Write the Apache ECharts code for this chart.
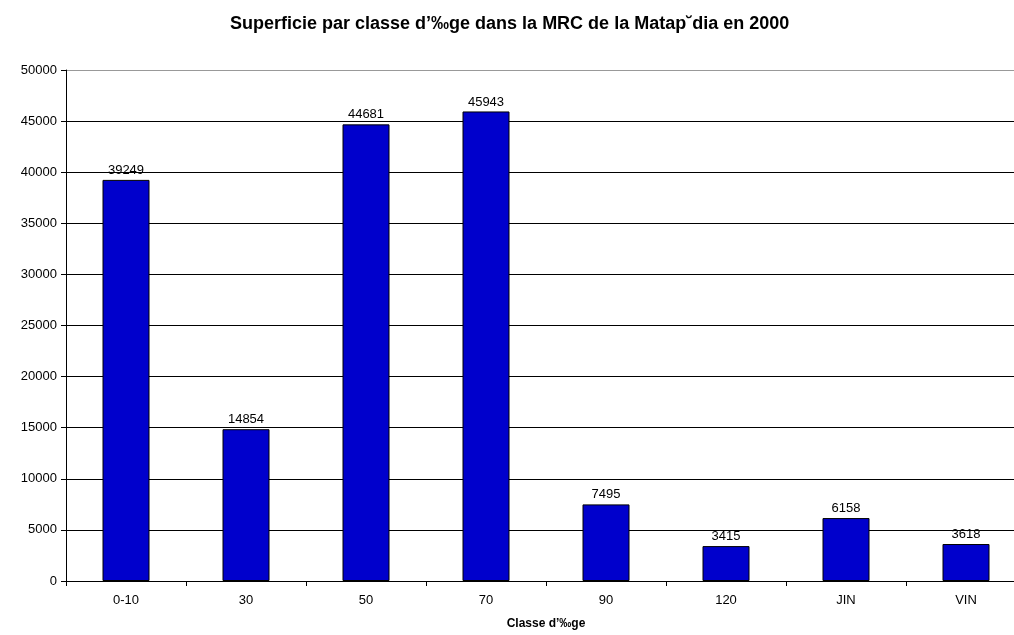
<!DOCTYPE html>
<html><head><meta charset="utf-8">
<script src="https://cdn.jsdelivr.net/npm/echarts@6/dist/echarts.min.js"></script>
<style>html,body{margin:0;padding:0;background:#fff;overflow:hidden;width:1014px;height:635px}#c{width:1040px;height:635px}</style>
</head><body><div id="c"></div>
<script>
const categories = ['0-10','30','50','70','90','120','JIN','VIN'];
const values = [39249,14854,44681,45943,7495,3415,6158,3618];
const titleText = 'Superficie par classe d\u2019\u2030ge dans la MRC de la Matap\u02D8dia en 2000';
const xName = 'Classe d\u2019\u2030ge';
const FONT = '"Liberation Sans", Arial, sans-serif';
const splitColors = ['#000','#000','#000','#000','#000','#000','#000','#000','#000','#000','#999'];

const chart = echarts.init(document.getElementById('c'));
chart.setOption({
  animation:false,
  title:{text:titleText,left:225,top:10,textStyle:{fontFamily:FONT,fontSize:18,fontWeight:'bold',color:'#000'}},
  grid:{left:66,right:14,top:70,bottom:52,containLabel:false},
  xAxis:{type:'category',data:categories,boundaryGap:true,
    axisLine:{lineStyle:{color:'#000',width:1}},
    axisTick:{show:true,alignWithLabel:false,length:5,lineStyle:{color:'#000'}},
    axisLabel:{fontFamily:FONT,fontSize:13,color:'#000',margin:13},
    name:xName,nameLocation:'middle',nameGap:37,
    nameTextStyle:{fontFamily:FONT,fontSize:12,fontWeight:'bold',color:'#000'}},
  yAxis:{type:'value',min:0,max:50000,interval:5000,
    axisLine:{show:true,lineStyle:{color:'#000',width:1}},
    axisTick:{show:true,length:5,lineStyle:{color:'#000'}},
    axisLabel:{fontFamily:FONT,fontSize:13,color:'#000',margin:9,formatter:v=>String(v)},
    splitLine:{show:true,lineStyle:{color:splitColors,width:1}}},
  series:[{type:'bar',data:values,barWidth:47,
    itemStyle:{color:'#0000CC',borderColor:'#000',borderWidth:1},
    label:{show:true,position:'top',distance:3,fontFamily:FONT,fontSize:13,color:'#000'}}]
});
</script></body></html>
